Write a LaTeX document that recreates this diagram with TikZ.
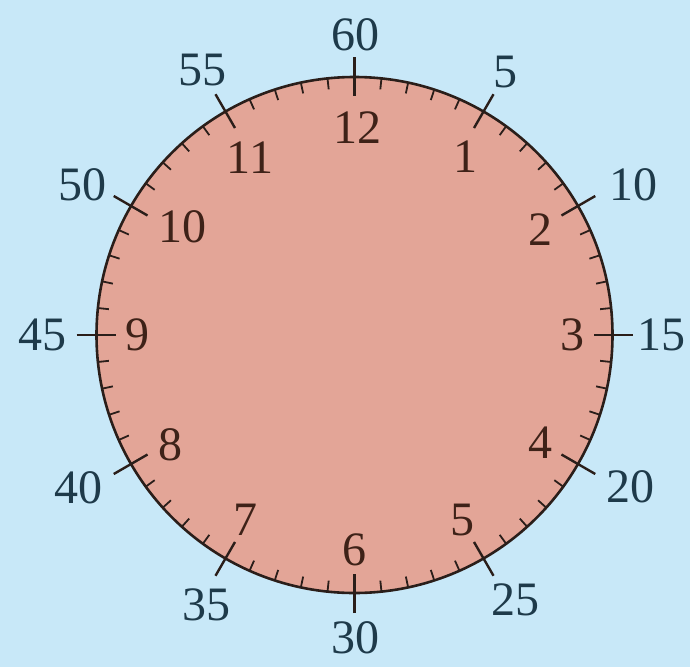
\documentclass[tikz,border=0pt]{standalone}
\usepackage{fontspec}
\setmainfont{Liberation Serif}
\usetikzlibrary{calc}
\definecolor{bg}{HTML}{C8E8F8}
\definecolor{face}{HTML}{E3A597}
\definecolor{outertext}{HTML}{1E3A4A}
\definecolor{innertext}{HTML}{3E2218}
\definecolor{rim}{HTML}{2A1E1A}
\tikzset{
  outerlbl/.style={text=outertext, font=\fontsize{48}{48}\selectfont, inner sep=0pt},
  innerlbl/.style={text=innertext, font=\fontsize{48}{48}\selectfont, inner sep=0pt},
  majortick/.style={draw=rim, line width=2.4pt},
  minortick/.style={draw=rim, line width=1.8pt},
  rimline/.style={draw=rim, line width=2.6pt, fill=face}
}
\begin{document}
\begin{tikzpicture}[x=1pt,y=-1pt]
\fill[bg] (0,0) rectangle (690,667);
\useasboundingbox (0,0) rectangle (690,667);
\coordinate (c) at (354.5,335);
\node[circle, minimum size=516pt, inner sep=0pt, rimline] (dial) at (c) {};
% minute ticks
\foreach \m in {0,...,59}{
  \pgfmathsetmacro{\ang}{-90+6*\m}
  \pgfmathtruncatemacro{\ismaj}{mod(\m,5)==0 ? 1 : 0}
  \ifnum\ismaj=0
    \draw[minortick] ($(c)+(\ang:258)$) -- ($(c)+(\ang:247)$);
  \fi
}
% hour ticks
\foreach \h in {1,...,12}{
  \pgfmathsetmacro{\ang}{-90+30*\h}
  \draw[majortick] ($(c)+(\ang:278)$) -- ($(c)+(\ang:239)$);
}
% inner hour labels
\foreach \t/\x/\y in {12/357/128, 1/465/157, 2/540/230, 3/572/335, 4/540/443, 5/462/520,
                      6/354/550, 7/245/520, 8/170/445, 9/137/335, 10/182/227, 11/250/158}{
  \node[innerlbl] (h\t) at (\x,\y) {\t};
}
% outer minute labels
\foreach \t/\x/\y in {60/355/35, 5/505/72, 10/633/185, 15/661/335, 20/630/487, 25/515/600,
                      30/355/638, 35/206/605, 40/78/488, 45/42/335, 50/82/185, 55/202/70}{
  \node[outerlbl] (m\t) at (\x,\y) {\t};
}
\end{tikzpicture}
\end{document}
